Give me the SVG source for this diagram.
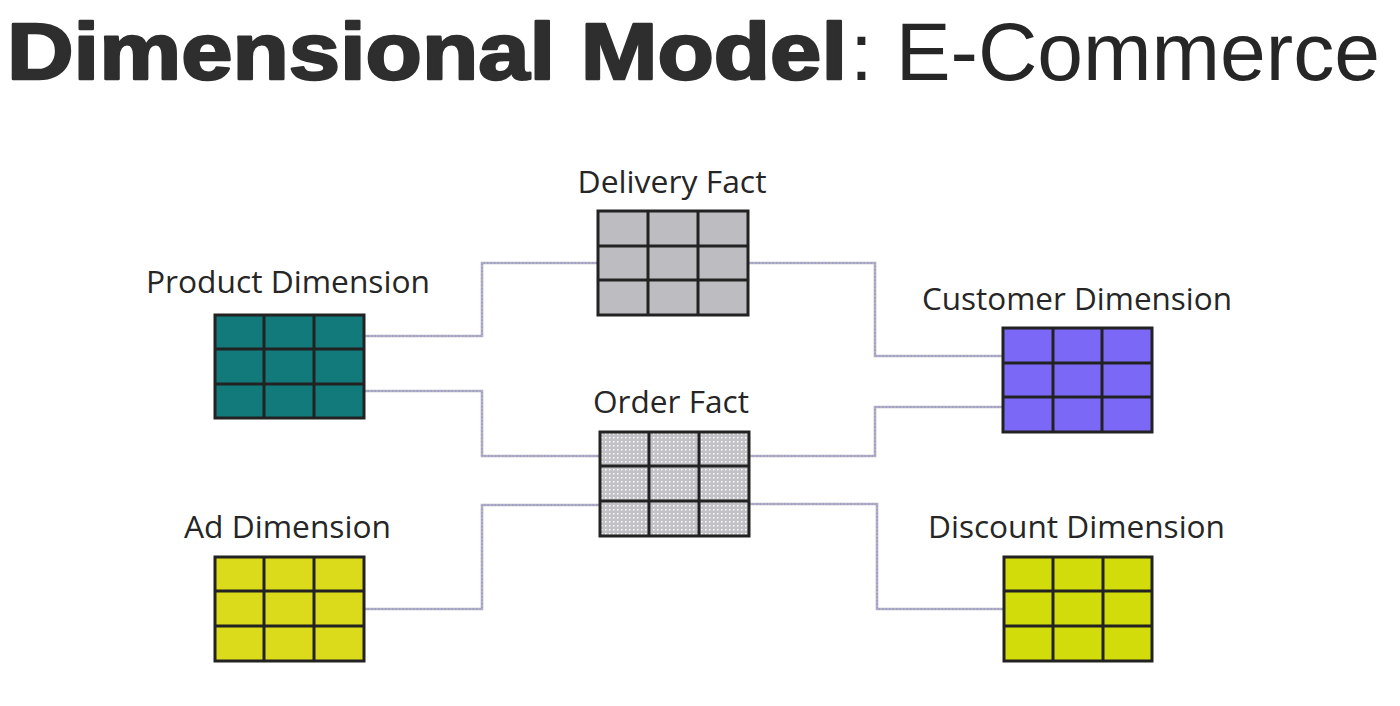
<svg xmlns="http://www.w3.org/2000/svg" xmlns:xlink="http://www.w3.org/1999/xlink" width="1400" height="706" viewBox="0 0 1400 706">
<style>
.lbl{font-family:"Open Sans","Noto Sans","DejaVu Sans",sans-serif;font-size:31px;fill:#262626;text-anchor:middle}
.grid{stroke:#222;stroke-width:3;fill:none}
.frame{stroke:#222;stroke-width:3}
.conA{fill:none;stroke:#b3b3bb;stroke-width:2.6}
.conB{fill:none;stroke:#8f86ee;stroke-width:1;stroke-dasharray:1.5 2}
</style>
<defs>
<pattern id="dots" width="4" height="4" patternUnits="userSpaceOnUse">
<rect width="4" height="4" fill="#c2c2c6"/>
<rect x="1" y="1" width="1.5" height="1.5" fill="#ffffff"/>
</pattern>
</defs>
<rect width="1400" height="706" fill="#ffffff"/>
<g id="title">
<text x="7" y="79" font-family="'Liberation Sans',Arial,sans-serif" font-weight="bold" font-size="80" fill="#2e2e2e" stroke="#2e2e2e" stroke-width="2.5" stroke-linejoin="round" textLength="840" lengthAdjust="spacingAndGlyphs">Dimensional Model</text>
<text x="850" y="80" font-family="'Liberation Sans',Arial,sans-serif" font-size="82" fill="#262626" textLength="530" lengthAdjust="spacingAndGlyphs">: E-Commerce</text>
</g>
<g id="connectors">
<path class="conA" d="M364,336 H482 V263 H598"/>
<path class="conA" d="M364,391 H482 V456 H600"/>
<path class="conA" d="M364,609 H482 V505 H600"/>
<path class="conA" d="M748,263 H875 V356 H1003"/>
<path class="conA" d="M749,456 H875 V407 H1003"/>
<path class="conA" d="M749,504 H877 V609 H1004"/>
<path class="conB" d="M364,336 H482 V263 H598"/>
<path class="conB" d="M364,391 H482 V456 H600"/>
<path class="conB" d="M364,609 H482 V505 H600"/>
<path class="conB" d="M748,263 H875 V356 H1003"/>
<path class="conB" d="M749,456 H875 V407 H1003"/>
<path class="conB" d="M749,504 H877 V609 H1004"/>
</g>
<g id="product-dimension">
<text class="lbl" x="288" y="293" textLength="284" lengthAdjust="spacingAndGlyphs">Product Dimension</text>
<rect class="frame" x="215" y="315" width="149" height="103" fill="#127a7a"/>
<path class="grid" d="M264,315 V418 M314,315 V418 M215,349 H364 M215,384 H364"/>
</g>
<g id="delivery-fact">
<text class="lbl" x="672" y="193" textLength="189" lengthAdjust="spacingAndGlyphs">Delivery Fact</text>
<rect class="frame" x="598" y="211" width="150" height="104" fill="#bcbcc1"/>
<path class="grid" d="M648,211 V315 M698,211 V315 M598,246 H748 M598,280 H748"/>
</g>
<g id="order-fact">
<text class="lbl" x="671" y="413" textLength="156" lengthAdjust="spacingAndGlyphs">Order Fact</text>
<rect class="frame" x="600" y="432" width="149" height="104" fill="url(#dots)"/>
<path class="grid" d="M649,432 V536 M699,432 V536 M600,466 H749 M600,501 H749"/>
</g>
<g id="customer-dimension">
<text class="lbl" x="1077" y="310" textLength="310" lengthAdjust="spacingAndGlyphs">Customer Dimension</text>
<rect class="frame" x="1003" y="328" width="149" height="104" fill="#7b68f6"/>
<path class="grid" d="M1053,328 V432 M1102,328 V432 M1003,363 H1152 M1003,397 H1152"/>
</g>
<g id="ad-dimension">
<text class="lbl" x="287.5" y="538" textLength="207" lengthAdjust="spacingAndGlyphs">Ad Dimension</text>
<rect class="frame" x="215" y="557" width="149" height="104" fill="#dbdb1c"/>
<path class="grid" d="M264,557 V661 M314,557 V661 M215,591 H364 M215,626 H364"/>
</g>
<g id="discount-dimension">
<text class="lbl" x="1076.5" y="538" textLength="297" lengthAdjust="spacingAndGlyphs">Discount Dimension</text>
<rect class="frame" x="1004" y="557" width="148" height="104" fill="#d1dc0a"/>
<path class="grid" d="M1053,557 V661 M1103,557 V661 M1004,591 H1152 M1004,626 H1152"/>
</g>
</svg>
